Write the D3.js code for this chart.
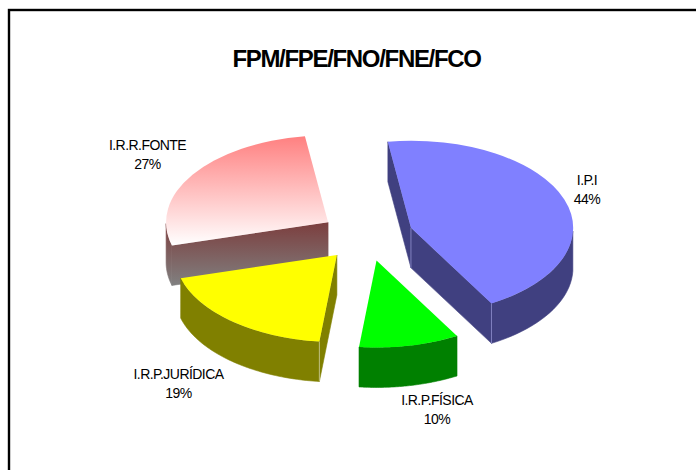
<!DOCTYPE html>
<html><head><meta charset="utf-8">
<script src="https://cdn.jsdelivr.net/npm/d3@7/dist/d3.min.js"></script>
<style>html,body{margin:0;padding:0;background:#fff;overflow:hidden}svg{display:block}</style>
</head><body><svg id="c" width="696" height="470"></svg>
<script>
const title = "FPM/FPE/FNO/FNE/FCO";
const categories = ["I.P.I", "I.R.P.FÍSICA", "I.R.P.JURÍDICA", "I.R.R.FONTE"];
const shares = [44, 10, 19, 27];
const topColors = ["#8080FF", "#00FF00", "#FFFF00", "url(#pinkTop)"];
const wallColors = ["#404080", "#008000", "#808000", "url(#pinkWall)"];
const edgeColors = ["#8080C0", "#40A040", "#C0C080", "#A08080"];

const W = 696, H = 470, cx = 367, cy = 236, rx = 162, ry = 87, depth = 40, explode = 46.5;
const startDeg = -8.2, tau = 2 * Math.PI, rad = Math.PI / 180;
// label anchor (centre x, first-line baseline) in slice order
const labelAt = [[587, 185], [437, 405], [178.5, 379], [147.5, 150]];
const labelGap = 18.5;

const svg = d3.select("#c");
const defs = svg.append("defs");
const sx = d3.scaleLinear().domain([-1, 1]).range([-rx, rx]);
const sy = d3.scaleLinear().domain([-1, 1]).range([-ry, ry]);

const pie = d3.pie().sort(null).value(d => d)
  .startAngle(startDeg * rad).endAngle(startDeg * rad + tau);
const arcs = pie(shares).map((a, i) => {
  const mid = (a.startAngle + a.endAngle) / 2;
  return { ...a, i,
    ox: cx + explode * Math.sin(mid),
    oy: cy - explode * (ry / rx) * Math.cos(mid) };
});

function grad(id, units, pts, stops) {
  const g = defs.append("linearGradient").attr("id", id).attr("gradientUnits", units)
    .attr("x1", pts[0]).attr("y1", pts[1]).attr("x2", pts[2]).attr("y2", pts[3]);
  stops.forEach(s => g.append("stop").attr("offset", s[0]).attr("stop-color", s[1]));
}
grad("pinkTop", "objectBoundingBox", [0, 0, 0, 1], [[0, "#FF8080"], [1, "#FFFFFF"]]);
const pink = arcs[3];
grad("pinkWall", "userSpaceOnUse", [0, pink.oy, 0, pink.oy + sy(-Math.cos(pink.startAngle)) + depth],
  [[0, "#7C3E3E"], [1, "#808080"]]);

svg.append("rect").attr("width", W).attr("height", H).attr("fill", "#fff");
svg.append("rect").attr("x", 9).attr("y", 10).attr("width", 900).attr("height", 700)
  .attr("fill", "none").attr("stroke", "#000").attr("stroke-width", 2.4);

const topArc = d3.arc().innerRadius(0).outerRadius(1);
const line = d3.line();
const pt = (a, t, dz = 0) => [a.ox + sx(Math.sin(t)), a.oy + sy(-Math.cos(t)) + dz];
const drawOrder = [0, 3, 2, 1];

drawOrder.forEach(k => {
  const a = arcs[k], g = svg.append("g");
  const wall = wallColors[k], edge = edgeColors[k];
  const apex = [a.ox, a.oy], apexLow = [a.ox, a.oy + depth];
  const radial = t => {
    const p = pt(a, t), q = pt(a, t, depth);
    g.append("path").attr("d", line([apex, p, q, apexLow]) + "Z")
      .attr("fill", wall).attr("stroke", wall).attr("stroke-width", 0.6);
  };
  const startShown = Math.cos(a.startAngle - Math.PI / 2) < 0;
  const endShown = Math.cos(a.endAngle + Math.PI / 2) < 0;
  if (startShown) radial(a.startAngle);
  if (endShown) radial(a.endAngle);

  // outer rim: only the part of the arc facing the viewer
  const n = 60, s0 = a.startAngle, s1 = a.endAngle;
  const rim = [];
  d3.range(n + 1).forEach(j => {
    const t = s0 + (s1 - s0) * j / n;
    if (Math.cos(t) <= 0) rim.push(t);
  });
  if (rim.length) {
    const pts = rim.map(t => pt(a, t)).concat(rim.slice().reverse().map(t => pt(a, t, depth)));
    g.append("path").attr("d", line(pts) + "Z")
      .attr("fill", wall).attr("stroke", wall).attr("stroke-width", 0.6);
  }
  const vEdge = p => g.append("line").attr("x1", p[0]).attr("y1", p[1]).attr("x2", p[0]).attr("y2", p[1] + depth)
    .attr("stroke", edge).attr("stroke-width", 1);
  if (endShown && k !== 3) vEdge(pt(a, a.endAngle));
  if (startShown && k === 2) vEdge(pt(a, a.startAngle));
  if (k === 0) vEdge(apex);

  g.append("path")
    .attr("transform", `translate(${a.ox},${a.oy}) scale(${rx},${ry})`)
    .attr("d", topArc({ startAngle: a.startAngle, endAngle: a.endAngle }))
    .attr("fill", topColors[k]);
});

svg.append("text").attr("x", 356.5).attr("y", 67)
  .attr("text-anchor", "middle")
  .style("font", "bold 24px 'Liberation Sans', Arial, sans-serif")
  .style("letter-spacing", "-1.32px").attr("fill", "#000").text(title);

categories.forEach((c, i) => {
  const t = svg.append("text").attr("text-anchor", "middle").attr("fill", "#000")
    .style("font", "14px 'Liberation Sans', Arial, sans-serif").style("letter-spacing", "-0.55px");
  t.append("tspan").attr("x", labelAt[i][0]).attr("y", labelAt[i][1]).text(c);
  t.append("tspan").attr("x", labelAt[i][0]).attr("y", labelAt[i][1] + labelGap).text(shares[i] + "%");
});
</script></body></html>
